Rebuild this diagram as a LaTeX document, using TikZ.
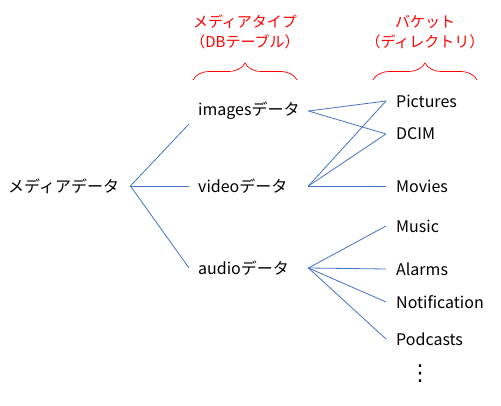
\documentclass[tikz,border=0pt]{standalone}
\usepackage{fontspec}
\setmainfont{Noto Sans CJK JP}
\newfontfamily\dotsfont{DejaVu Sans}
\usetikzlibrary{decorations.pathreplacing}
\definecolor{linkblue}{RGB}{68,114,196}
\definecolor{notered}{RGB}{255,0,0}

\begin{document}
\begin{tikzpicture}[x=1pt, y=-1pt,
    root/.style={anchor=west, inner xsep=8pt, inner ysep=3pt, text width=114pt, align=left, font=\fontsize{16}{18}\selectfont},
    table/.style={anchor=west, inner xsep=9pt, inner ysep=4pt, text width=101pt, align=left, font=\fontsize{16}{18}\selectfont},
    bucket/.style={anchor=west, inner xsep=10pt, inner ysep=3pt, font=\fontsize{16}{18}\selectfont},
    head/.style={text=notered, align=center, font=\fontsize{15}{20}\selectfont},
    bracket/.style={notered, line width=0.7pt, decorate, decoration={brace, amplitude=17pt, aspect=0.5}},
    link/.style={linkblue, line width=0.8pt}
]
    \useasboundingbox (0,0) rectangle (501,406);

    % Headings
    \node[head] (tablehead) at (245,32) {メディアタイプ\\（DBテーブル）};
    \node[head] (buckethead) at (425,32) {バケット\\（ディレクトリ）};
    \draw[bracket] (193,80) -- (297,80);
    \draw[bracket] (373,80) -- (477,80);

    % Root
    \node[root] (media) at (0,186) {メディアデータ};

    % Tables
    \node[table] (images) at (189,111) {imagesデータ};
    \node[table] (video) at (189,186) {videoデータ};
    \node[table] (audio) at (189,268) {audioデータ};

    % Buckets
    \node[bucket] (pictures) at (386,101) {Pictures};
    \node[bucket] (dcim) at (386,134) {DCIM};
    \node[bucket] (movies) at (386,186) {Movies};
    \node[bucket] (music) at (386,226) {Music};
    \node[bucket] (alarms) at (386,269) {Alarms};
    \node[bucket] (notification) at (386,302) {Notification};
    \node[bucket] (podcasts) at (386,339) {Podcasts};
    \node (more) at (420,374) {\dotsfont\fontsize{22}{22}\selectfont ⋮};

    % Root to tables
    \draw[link] (media.east) -- (images.south west);
    \draw[link] (media.east) -- (video.west);
    \draw[link] (media.east) -- (audio.west);

    % Tables to buckets
    \draw[link] (images.east) -- (pictures.west);
    \draw[link] (images.east) -- (dcim.west);
    \draw[link] (video.east) -- (pictures.west);
    \draw[link] (video.east) -- (dcim.west);
    \draw[link] (video.east) -- (movies.west);
    \draw[link] (audio.east) -- (music.west);
    \draw[link] (audio.east) -- (alarms.west);
    \draw[link] (audio.east) -- (notification.west);
    \draw[link] (audio.east) -- (podcasts.west);
\end{tikzpicture}
\end{document}
